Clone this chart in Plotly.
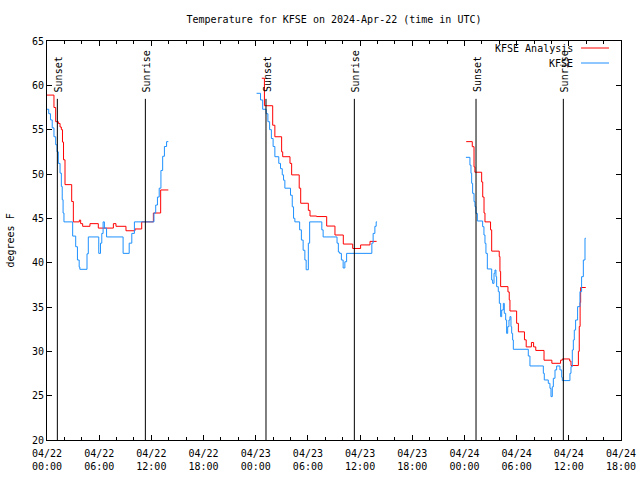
import pandas as pd
import plotly.graph_objects as go

BASE = pd.Timestamp("2024-04-22 00:00")

# ---- data (hours since 2024-04-22 00:00 UTC, temperature in F) ----
# KFSE Analysis (red), three segments
r1_h = [0.0, 0.8, 1.0, 1.3, 1.5, 1.65, 1.78, 1.9, 2.07, 2.84, 3.03, 3.72, 3.87, 4.1, 4.94, 5.9, 7.63, 7.93, 9.08, 10.12, 10.89, 12.23, 13.07, 13.95]
r1_v = [58.9, 57.5, 55.9, 55.7, 55.3, 55.0, 53.6, 51.6, 48.8, 46.9, 44.6, 44.8, 44.4, 44.1, 44.4, 43.9, 44.4, 44.1, 43.6, 43.8, 44.6, 45.6, 48.2, 48.2]
r2_h = [24.7, 25.0, 25.95, 26.2, 26.98, 27.1, 27.94, 28.13, 29.0, 29.17, 30.05, 30.24, 31.0, 32.16, 33.11, 34.07, 35.15, 36.06, 37.14, 37.9]
r2_v = [60.8, 57.7, 55.5, 54.2, 52.5, 51.95, 51.2, 49.9, 48.4, 46.7, 45.9, 45.26, 45.2, 44.13, 43.12, 42.1, 41.6, 42.0, 42.4, 42.4]
r3_h = [48.2, 48.9, 49.1, 49.2, 49.98, 50.1, 50.25, 50.36, 51.0, 51.13, 52.0, 52.08, 52.16, 53.0, 53.15, 53.23, 54.0, 54.2, 54.9, 55.1, 55.7, 55.95, 56.2, 57.15, 58.05, 59.05, 59.25, 60.1, 60.25, 61.1, 61.2, 61.3, 61.36, 61.95]
r3_v = [53.65, 53.08, 50.8, 50.2, 49.1, 47.4, 45.6, 44.6, 43.7, 41.3, 40.7, 39.0, 37.3, 36.7, 35.8, 34.55, 33.16, 32.2, 31.3, 30.5, 31.0, 30.5, 30.1, 29.0, 28.65, 29.0, 29.14, 28.9, 28.4, 30.0, 32.8, 35.5, 37.2, 37.2]

# KFSE observations (blue), three segments
b1_h = [0.0, 0.2, 0.4, 0.6, 0.8, 1.0, 1.15, 1.3, 1.5, 1.65, 1.75, 1.85, 1.95, 2.95, 3.3, 3.5, 3.7, 3.78, 4.6, 4.75, 5.95, 6.15, 6.3, 6.45, 6.6, 6.85, 8.75, 9.45, 9.75, 10.05, 12.3, 12.5, 12.7, 12.9, 13.1, 13.3, 13.5, 13.75, 13.95]
b1_v = [57.3, 56.8, 56.1, 55.2, 54.2, 53.3, 52.5, 51.2, 50.1, 48.6, 47.1, 45.6, 44.6, 43.0, 41.8, 40.3, 39.5, 39.25, 41.0, 42.9, 41.05, 42.2, 43.3, 44.6, 43.9, 42.9, 41.05, 42.2, 43.3, 44.6, 45.6, 46.5, 47.4, 48.4, 50.4, 52.0, 53.1, 53.65, 53.65]
b2_h = [24.1, 24.55, 24.8, 25.2, 25.4, 25.6, 25.8, 26.0, 26.2, 26.65, 26.85, 27.05, 27.2, 27.35, 28.0, 28.2, 28.35, 28.5, 29.05, 29.25, 29.45, 29.65, 29.8, 30.05, 30.2, 31.6, 31.75, 33.35, 33.5, 33.65, 33.85, 34.05, 34.25, 34.45, 37.35, 37.5, 37.7, 37.85, 37.95]
b2_v = [59.1, 58.35, 57.3, 56.8, 55.9, 55.0, 54.0, 53.1, 51.95, 51.2, 50.6, 49.9, 49.3, 48.4, 47.6, 46.3, 45.0, 44.6, 43.7, 42.55, 41.4, 40.3, 39.2, 42.2, 44.6, 43.7, 42.9, 42.2, 41.2, 41.05, 40.3, 39.4, 40.1, 41.05, 42.2, 43.3, 44.1, 44.6, 44.6]
b3_h = [48.17, 48.63, 48.75, 48.83, 48.94, 49.1, 49.21, 49.32, 49.48, 50.09, 50.24, 50.36, 50.47, 50.63, 51.13, 51.24, 51.4, 51.51, 51.62, 51.7, 51.89, 52.01, 52.16, 52.28, 52.47, 52.58, 52.74, 52.85, 52.97, 53.12, 53.23, 53.35, 53.43, 53.54, 53.62, 55.34, 55.53, 57.07, 57.18, 57.64, 57.83, 57.95, 58.1, 58.22, 58.41, 58.6, 58.98, 59.18, 59.25, 60.13, 60.25, 60.4, 60.52, 60.63, 60.78, 61.01, 61.28, 61.47, 61.67, 61.86, 61.95]
b3_v = [51.88, 51.0, 50.08, 48.95, 47.82, 46.88, 46.32, 45.56, 44.7, 44.06, 43.12, 42.18, 41.05, 39.29, 38.05, 37.67, 38.8, 39.17, 38.42, 37.29, 36.73, 35.41, 33.91, 34.66, 35.41, 34.29, 33.53, 32.03, 32.78, 33.53, 33.91, 32.78, 32.03, 31.28, 30.23, 29.47, 28.35, 27.52, 26.77, 26.39, 25.83, 24.89, 26.0, 26.96, 27.9, 28.35, 27.9, 27.07, 26.7, 27.52, 28.27, 30.15, 31.28, 32.4, 33.53, 35.04, 36.73, 38.42, 40.3, 42.75, 42.75]

sunset_h = [1.19, 25.18, 49.33]
sunrise_h = [11.31, 35.34, 59.37]

series_names = ["KFSE Analysis", "KFSE"]
series_colors = ["#ff0000", "#1e90ff"]
x_start_h, x_end_h = 0, 66
y_min, y_max = 20, 65

FONT = "DejaVu Sans Mono"


def t(h):
    return BASE + pd.Timedelta(hours=h)


def join(segments):
    xs, ys = [], []
    for hs, vs in segments:
        if xs:
            xs.append(None)
            ys.append(None)
        xs += [t(h) for h in hs]
        ys += list(vs)
    return xs, ys


fig = go.Figure()
for name, color, segs in [
    (series_names[0], series_colors[0], [(r1_h, r1_v), (r2_h, r2_v), (r3_h, r3_v)]),
    (series_names[1], series_colors[1], [(b1_h, b1_v), (b2_h, b2_v), (b3_h, b3_v)]),
]:
    xs, ys = join(segs)
    fig.add_trace(go.Scatter(x=xs, y=ys, mode="lines", name=name,
                             line=dict(color=color, width=1, shape="hv"),
                             connectgaps=False, showlegend=False))

L, R, T, B = 47, 19, 41, 40
W, H = 640, 480
pw, ph = W - L - R, H - T - B

line_top = 0.855
shapes, annotations = [], []
for label, hours in [("Sunset", sunset_h), ("Sunrise", sunrise_h)]:
    for h in hours:
        shapes.append(dict(type="line", xref="x", yref="paper", x0=t(h), x1=t(h),
                           y0=0, y1=line_top, line=dict(color="black", width=1)))
        annotations.append(dict(text=label, x=t(h), xref="x", y=line_top + 0.012, yref="paper",
                                xanchor="center", yanchor="bottom", textangle=-90, showarrow=False,
                                xshift=1,
                                font=dict(family=FONT, size=10, color="black")))

# legend (gnuplot style: text then sample line)
for i, (name, color) in enumerate(zip(series_names, series_colors)):
    ypx = 48 + i * 15
    yp = (H - B - ypx) / ph
    annotations.append(dict(text=name, x=(575 - L) / pw, xref="paper", y=yp, yref="paper",
                            xanchor="right", yanchor="middle", showarrow=False,
                            font=dict(family=FONT, size=10, color="black")))
    shapes.append(dict(type="line", xref="paper", yref="paper",
                       x0=(581 - L) / pw, x1=(609 - L) / pw, y0=yp, y1=yp,
                       line=dict(color=color, width=1)))

annotations.append(dict(text="degrees F", x=0, xref="paper", xshift=-37, y=0.5, yref="paper",
                        xanchor="center", yanchor="middle", textangle=-90, showarrow=False,
                        font=dict(family=FONT, size=10, color="black")))

fig.update_layout(
    width=W, height=H,
    margin=dict(l=L, r=R, t=T, b=B, autoexpand=False),
    paper_bgcolor="white", plot_bgcolor="white",
    title=dict(text="Temperature for KFSE on 2024-Apr-22 (time in UTC)", x=0.5, xref="paper",
               xanchor="center", y=1 - 19 / H, yref="container", yanchor="middle",
               font=dict(family=FONT, size=10, color="black")),
    font=dict(family=FONT, size=10, color="black"),
    shapes=shapes, annotations=annotations,
    showlegend=False,
)
fig.update_xaxes(
    range=[t(x_start_h), t(x_end_h)], type="date", automargin=False,
    dtick=6 * 3600 * 1000, tick0=t(0), tickformat="%m/%d<br>%H:%M",
    ticks="inside", ticklen=5, tickcolor="black", showgrid=False, zeroline=False,
    showline=True, linecolor="black", linewidth=1, mirror="ticks",
    ticklabelstandoff=4,
    minor=dict(dtick=2 * 3600 * 1000, tick0=t(0), ticks="inside", ticklen=3, tickcolor="black", showgrid=False),
    tickfont=dict(family=FONT, size=10, color="black"),
)
fig.update_yaxes(
    range=[y_min, y_max], dtick=5, tick0=0, automargin=False,
    ticks="inside", ticklen=5, tickcolor="black", showgrid=False, zeroline=False,
    showline=True, linecolor="black", linewidth=1, mirror="ticks",
    tickfont=dict(family=FONT, size=10, color="black"),
)

fig.write_html("out.html", config={"displayModeBar": False},
               post_script="document.body.style.margin='0px';")
